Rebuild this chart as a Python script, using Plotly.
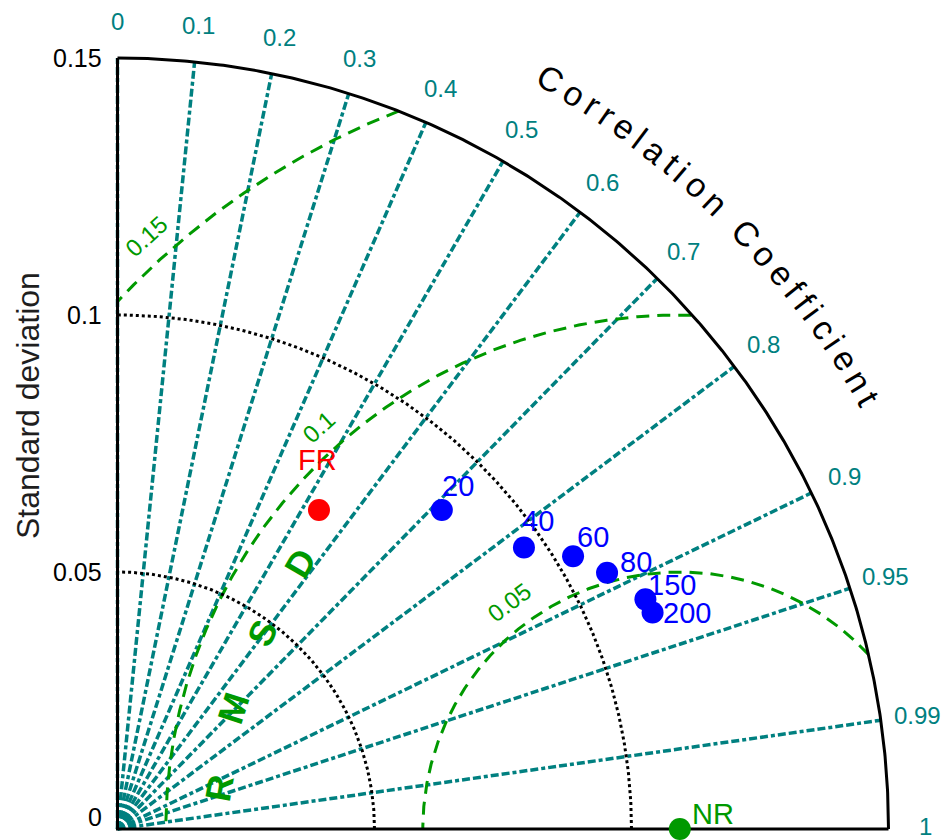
import numpy as np
import plotly.graph_objects as go

# ---- statistics (standard deviation, correlation with the NR reference) ----
run_labels = ["20", "40", "60", "80", "150", "200"]
run_std = [0.0885, 0.0962, 0.1033, 0.1075, 0.1120, 0.1123]
run_corr = [0.713, 0.822, 0.858, 0.886, 0.917, 0.927]

fr_label = "FR"
fr_std = 0.0734
fr_corr = 0.534

nr_label = "NR"
nr_std = 0.1094
nr_corr = 1.0

# ---- axes / grid definitions ----
corr_ticks = [0, 0.1, 0.2, 0.3, 0.4, 0.5, 0.6, 0.7, 0.8, 0.9, 0.95, 0.99, 1]
corr_tick_labels = ["0", "0.1", "0.2", "0.3", "0.4", "0.5", "0.6", "0.7",
                    "0.8", "0.9", "0.95", "0.99", "1"]
std_ticks = [0, 0.05, 0.1, 0.15]
std_tick_labels = ["0", "0.05", "0.1", "0.15"]
std_grid = [0.05, 0.1]
rmsd_levels = [0.05, 0.1, 0.15]
rmsd_labels = ["0.05", "0.1", "0.15"]
STD_MAX = 0.15

# ---- styling ----
W, H = 947, 840
PX = 5140.0                      # pixels per unit of standard deviation
ORIGIN = (117.5, 829.0)          # page position of the diagram origin
TEAL = "rgb(0,128,128)"
GREEN = "rgb(0,153,0)"
FONT = "Arial, Liberation Sans, sans-serif"


def polar(s, c):
    c = np.asarray(c, dtype=float)
    s = np.asarray(s, dtype=float)
    return s * c, s * np.sqrt(np.clip(1 - c ** 2, 0, None))


fig = go.Figure()

# correlation spokes
for c in corr_ticks[:-1]:
    x, y = polar([0, STD_MAX], [c, c])
    fig.add_trace(go.Scatter(x=x, y=y, mode="lines", hoverinfo="skip",
                             line=dict(color=TEAL, width=3.5,
                                       dash="8px,3px,8px,3px,4px,3px")))

# RMSD arcs centred on the reference point
t = np.linspace(0, np.pi, 1200)
for r in rmsd_levels:
    ax = nr_std + r * np.cos(t)
    ay = r * np.sin(t)
    inside = (np.hypot(ax, ay) <= STD_MAX) & (ax >= 0)
    ax = np.where(inside, ax, np.nan)
    ay = np.where(inside, ay, np.nan)
    fig.add_trace(go.Scatter(x=ax, y=ay, mode="lines", hoverinfo="skip",
                             connectgaps=False,
                             line=dict(color=GREEN, width=3, dash="13px,8px")))

# standard deviation grid arcs
a = np.linspace(0, np.pi / 2, 400)
for s in std_grid:
    fig.add_trace(go.Scatter(x=s * np.cos(a), y=s * np.sin(a), mode="lines",
                             hoverinfo="skip",
                             line=dict(color="black", width=3, dash="dot")))

# frame: outer arc and the two axes
fig.add_trace(go.Scatter(x=STD_MAX * np.cos(a), y=STD_MAX * np.sin(a),
                         mode="lines", hoverinfo="skip",
                         line=dict(color="black", width=3)))
fig.add_trace(go.Scatter(x=[0, 0, STD_MAX], y=[STD_MAX, 0, 0], mode="lines",
                         hoverinfo="skip", line=dict(color="black", width=3)))

# points
rx, ry = polar(run_std, run_corr)
fig.add_trace(go.Scatter(x=rx, y=ry, mode="markers", cliponaxis=False,
                         marker=dict(color="rgb(0,0,255)", size=22)))
fx, fy = polar([fr_std], [fr_corr])
fig.add_trace(go.Scatter(x=fx, y=fy, mode="markers", cliponaxis=False,
                         marker=dict(color="rgb(255,0,0)", size=22)))
nx, ny = polar([nr_std], [nr_corr])
fig.add_trace(go.Scatter(x=nx, y=ny, mode="markers", cliponaxis=False,
                         marker=dict(color=GREEN, size=22)))

ann = []

# point labels (pixel offsets keep them clear of neighbouring markers)
run_label_shift = [(-2, 24), (-4, 26), (2, 19), (11, 11), (1, 14), (8, 0)]
for lab, x, y, (dx, dy) in zip(run_labels, rx, ry, run_label_shift):
    ann.append(dict(x=x, y=y, text=lab, showarrow=False, xanchor="left",
                    yanchor="middle", xshift=dx, yshift=dy,
                    font=dict(family=FONT, size=29, color="rgb(0,0,255)")))
ann.append(dict(x=fx[0], y=fy[0], text=fr_label, showarrow=False,
                xanchor="center", yanchor="middle", xshift=-1, yshift=50,
                font=dict(family=FONT, size=29, color="rgb(255,0,0)")))
ann.append(dict(x=nx[0], y=ny[0], text=nr_label, showarrow=False,
                xanchor="left", yanchor="middle", xshift=10, yshift=15,
                font=dict(family=FONT, size=29, color=GREEN)))

# correlation tick labels outside the outer arc
lab_r = STD_MAX * 808 / 771
for c, lab in zip(corr_ticks, corr_tick_labels):
    x, y = polar(lab_r, c)
    ann.append(dict(x=float(x), y=float(y), text=lab, showarrow=False,
                    xanchor="center", yanchor="middle",
                    yshift=3 if c == 1 else 0,
                    font=dict(family=FONT, size=24, color=TEAL)))

# standard deviation tick labels on the vertical axis
for s, lab in zip(std_ticks, std_tick_labels):
    ann.append(dict(x=-0.0026, y=s, text=lab, showarrow=False,
                    xanchor="right", yanchor="middle",
                    yshift=12 if s == 0 else 0,
                    font=dict(family=FONT, size=25, color="black")))

# RMSD contour labels, written along each arc
rmsd_label_angle = [127, 132, 132]
for r, lab, th in zip(rmsd_levels, rmsd_labels, rmsd_label_angle):
    rr = r + 0.0052
    x = nr_std + rr * np.cos(np.radians(th))
    y = rr * np.sin(np.radians(th))
    ann.append(dict(x=x, y=y, text=lab, showarrow=False, xanchor="center",
                    yanchor="middle", textangle=-(th - 90),
                    font=dict(family=FONT, size=24, color=GREEN)))

# "RMSD" spelled out letter by letter
rmsd_letters = ["R", "M", "S", "D"]
rmsd_letter_px = [(219, 788), (233, 708), (262, 633), (300, 563)]
rmsd_letter_rot = [-80, -72, -65, -60]
for ch, (px, py), rot in zip(rmsd_letters, rmsd_letter_px, rmsd_letter_rot):
    ann.append(dict(x=(px - ORIGIN[0]) / PX, y=(ORIGIN[1] - py) / PX,
                    text="<b>" + ch + "</b>", showarrow=False,
                    xanchor="center", yanchor="middle", textangle=rot,
                    font=dict(family=FONT, size=36, color=GREEN)))

# curved "Correlation Coefficient" title
title = "Correlation Coefficient"
widths = {"C": .722, "o": .556, "r": .333, "e": .556, "l": .222, "a": .556,
          "t": .278, "i": .222, "n": .556, " ": .278, "f": .278, "c": .5}
tsize = 34
track = 5.0
adv = [widths[ch] * tsize + track for ch in title]
centers = np.cumsum(adv) - np.array(adv) / 2
centers = centers - centers[0]
title_r = 866 / PX
start_deg, end_deg = 60.0, 29.8
span = centers[-1]
for ch, cpos in zip(title, centers):
    if ch == " ":
        continue
    ang = start_deg - (start_deg - end_deg) * cpos / span
    x = title_r * np.cos(np.radians(ang))
    y = title_r * np.sin(np.radians(ang))
    ann.append(dict(x=x, y=y, text=ch, showarrow=False, xanchor="center",
                    yanchor="middle", textangle=90 - ang,
                    font=dict(family=FONT, size=tsize, color="black")))

# vertical axis title
ann.append(dict(x=(28 - ORIGIN[0]) / PX, y=(ORIGIN[1] - 406) / PX,
                text="Standard deviation", showarrow=False, textangle=-90,
                xanchor="center", yanchor="middle",
                font=dict(family=FONT, size=32, color="rgb(30,30,30)")))

x_range = [-ORIGIN[0] / PX, (W - ORIGIN[0]) / PX]
y_range = [-(H - ORIGIN[1]) / PX, ORIGIN[1] / PX]

fig.update_layout(
    width=W, height=H,
    margin=dict(l=0, r=0, t=0, b=0),
    paper_bgcolor="white", plot_bgcolor="white",
    showlegend=False,
    annotations=ann,
    xaxis=dict(range=x_range, visible=False, fixedrange=True),
    yaxis=dict(range=y_range, visible=False, fixedrange=True),
)

fig.write_html("out.html")
